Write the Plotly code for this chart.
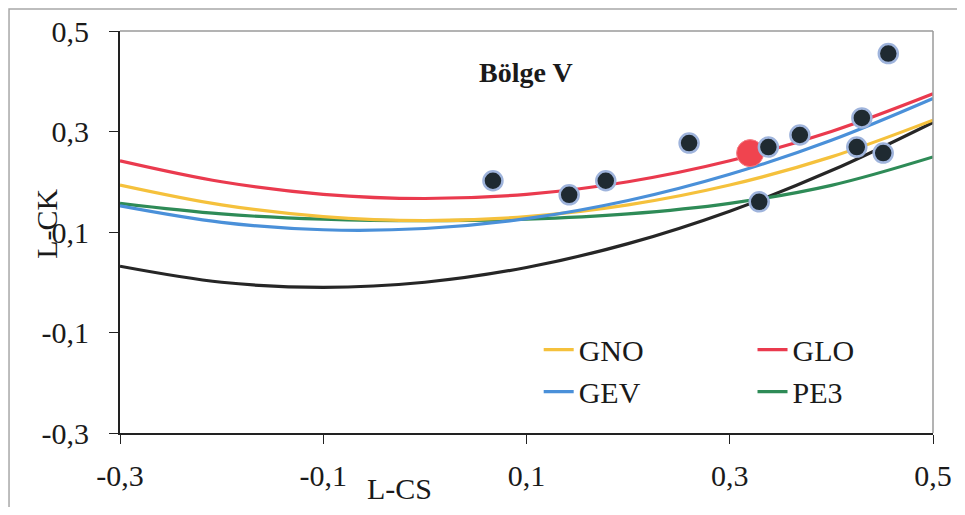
import plotly.graph_objects as go

# ---- data ----
tau3_grid = [-0.3, -0.2, -0.1, 0.0, 0.1, 0.2, 0.3, 0.4, 0.5]
gno = [0.1935, 0.1540, 0.1306, 0.1228, 0.1306, 0.1540, 0.1935, 0.2495, 0.3226]
glo = [0.2417, 0.2000, 0.1750, 0.1667, 0.1750, 0.2000, 0.2417, 0.3000, 0.3750]
gev = [0.1521, 0.1193, 0.1045, 0.1070, 0.1265, 0.1626, 0.2148, 0.2827, 0.3659]
pe3 = [0.1569, 0.1359, 0.1255, 0.1224, 0.1255, 0.1359, 0.1569, 0.1929, 0.2494]
gpa = [0.0319, 0.0000, -0.0102, 0.0000, 0.0294, 0.0769, 0.1415, 0.2222, 0.3182]

site_lcs = [0.067, 0.142, 0.178, 0.260, 0.338, 0.329, 0.369, 0.430, 0.425, 0.451, 0.456]
site_lck = [0.202, 0.174, 0.202, 0.277, 0.269, 0.160, 0.293, 0.327, 0.269, 0.257, 0.455]
avg_lcs = [0.320]
avg_lck = [0.257]

tick_vals = [-0.3, -0.1, 0.1, 0.3, 0.5]
tick_text = ["-0,3", "-0,1", "0,1", "0,3", "0,5"]

FONT = "Liberation Serif"
FS = 30

fig = go.Figure()

fig.add_trace(go.Scatter(x=tau3_grid, y=gpa, mode="lines", showlegend=False,
                         line=dict(color="#262626", width=3.2, shape="spline")))
fig.add_trace(go.Scatter(x=tau3_grid, y=pe3, mode="lines", name="PE3", legend="legend2",
                         line=dict(color="#2e8b57", width=3.2, shape="spline")))
fig.add_trace(go.Scatter(x=tau3_grid, y=gno, mode="lines", name="GNO", legend="legend",
                         line=dict(color="#f5c13c", width=3.2, shape="spline")))
fig.add_trace(go.Scatter(x=tau3_grid, y=gev, mode="lines", name="GEV", legend="legend",
                         line=dict(color="#4a90d9", width=3.2, shape="spline")))
fig.add_trace(go.Scatter(x=tau3_grid, y=glo, mode="lines", name="GLO", legend="legend2",
                         line=dict(color="#ea3a4e", width=3.2, shape="spline")))

fig.add_trace(go.Scatter(x=avg_lcs, y=avg_lck, mode="markers", showlegend=False,
                         marker=dict(color="#f0444f", size=27,
                                     line=dict(color="#f47c84", width=1))))
fig.add_trace(go.Scatter(x=site_lcs, y=site_lck, mode="markers", showlegend=False,
                         marker=dict(color="#1f2a31", size=19,
                                     line=dict(color="#9fb4dc", width=2.5))))

fig.update_layout(
    width=949, height=499,
    margin=dict(l=112, r=24, t=23, b=74, autoexpand=False),
    paper_bgcolor="white", plot_bgcolor="white",
    font=dict(family=FONT, size=FS, color="#1a1a1a"),
    legend=dict(x=0.515, y=0.272, xanchor="left", yanchor="top",
                bgcolor="rgba(0,0,0,0)", font=dict(family=FONT, size=FS),
                tracegroupgap=0, itemwidth=30),
    legend2=dict(x=0.778, y=0.272, xanchor="left", yanchor="top",
                 bgcolor="rgba(0,0,0,0)", font=dict(family=FONT, size=FS),
                 tracegroupgap=0, itemwidth=30, traceorder="reversed"),
    xaxis=dict(range=[-0.3, 0.5], tickvals=tick_vals, ticktext=tick_text,
               automargin=False,
               showgrid=False, zeroline=False, showline=True, linecolor="#222",
               linewidth=2, ticks="outside", ticklen=9, tickcolor="#222",
               tickfont=dict(family=FONT, size=FS), ticklabelstandoff=6),
    yaxis=dict(range=[-0.3, 0.5], tickvals=tick_vals, ticktext=tick_text,
               automargin=False,
               showgrid=False, zeroline=False, showline=True, linecolor="#222",
               linewidth=2, ticks="outside", ticklen=9, tickcolor="#222",
               tickfont=dict(family=FONT, size=FS), ticklabelstandoff=14),
    shapes=[
        dict(type="line", xref="paper", yref="paper", x0=0, x1=1, y0=1, y1=1,
             line=dict(color="#9a9a9a", width=1.5)),
        dict(type="line", xref="paper", yref="paper", x0=1, x1=1, y0=0, y1=1,
             line=dict(color="#9a9a9a", width=1.5)),
        dict(type="rect", xref="paper", yref="paper", x0=-0.1365, x1=1.06,
             y0=-0.189, y1=1.0547, line=dict(color="#a8a8a8", width=1.5),
             layer="below"),
    ],
    annotations=[
        dict(text="<b>Bölge V</b>", xref="paper", yref="paper", x=0.4994, y=0.8966,
             xanchor="center", yanchor="middle",
             showarrow=False, font=dict(family=FONT, size=28, color="#1a1a1a")),
        dict(text="L-CK", xref="paper", yref="paper", x=-0.0898, y=0.5205,
             xanchor="center", yanchor="middle",
             textangle=-90, showarrow=False, font=dict(family=FONT, size=FS)),
        dict(text="L-CS", xref="paper", yref="paper", x=0.344, y=-0.137,
             xanchor="center", yanchor="middle",
             showarrow=False, font=dict(family=FONT, size=FS)),
    ],
)

fig.write_html("out.html")
